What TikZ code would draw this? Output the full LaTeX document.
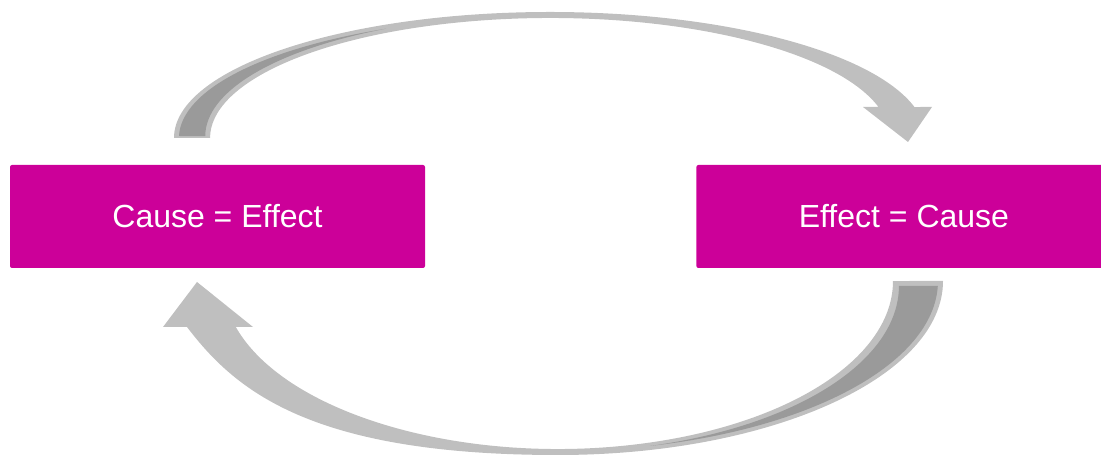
\documentclass[tikz,border=0pt]{standalone}
\usepackage{fontspec}
\setmainfont{Liberation Sans}
\usepackage{tikz}
\usetikzlibrary{positioning}

\definecolor{boxmagenta}{HTML}{CC0099}
\definecolor{ribbonlight}{HTML}{BFBFBF}
\definecolor{ribbondark}{HTML}{9A9A9A}

\begin{document}
\begin{tikzpicture}[x=1pt,y=1pt,
 box/.style={fill=boxmagenta,text=white,rounded corners=2pt,align=center,minimum height=103pt,minimum width=415pt,font=\fontsize{32}{38}\selectfont},
 ribbon/.style={fill=ribbonlight},
 ribbonback/.style={fill=ribbondark}]
 \useasboundingbox (0,0) rectangle (1101,457);
 \node[box] (cause) at (217.5,240.5) {Cause = Effect};
 \node[box,right=271pt of cause] (effect) {Effect = Cause};
 % upper arrow, cause -> effect
 \fill[ribbon] (174,319) arc[start angle=180,end angle=14.24,x radius=376,y radius=126]
   -- (932,350) -- (908,315) -- (863,350)
   -- (878.5,350) arc[start angle=14.97,end angle=180,x radius=340,y radius=120] -- cycle;
 \fill[ribbonback] (179,321) arc[start angle=179,end angle=116.2,x radius=371,y radius=122]
   arc[start angle=118.4,end angle=180,x radius=345,y radius=122.2] -- cycle;
 % lower arrow, effect -> cause
 \fill[ribbon] (943,176) arc[start angle=0,end angle=-90,x radius=385,y radius=174]
   .. controls (310,2) and (235,67) .. (187,130)
   -- (163,130) -- (197,175) -- (253,130)
   -- (235.8,130) arc[start angle=-164.11,end angle=0,x radius=335,y radius=168] -- cycle;
 \fill[ribbonback] (899,171) -- (937.8,171) arc[start angle=-1.685,end angle=-76,x radius=380,y radius=170]
   arc[start angle=-74.35,end angle=0,x radius=341,y radius=166.2] -- cycle;
\end{tikzpicture}
\end{document}
